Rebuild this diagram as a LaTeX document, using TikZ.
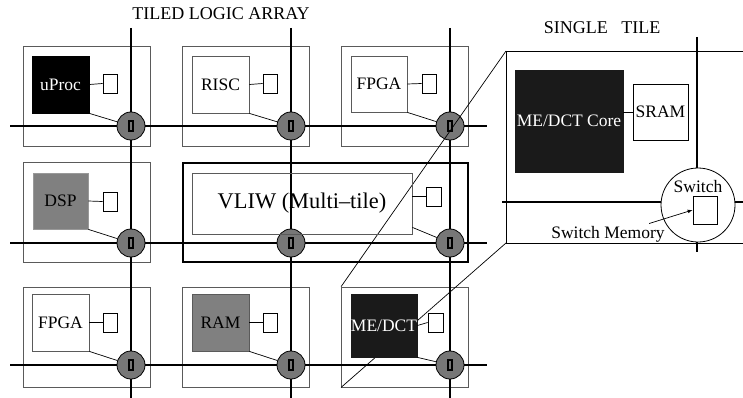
\documentclass[tikz,border=0pt]{standalone}
\usepackage{fontspec}
\setmainfont{Liberation Serif}
\usetikzlibrary{positioning}
\definecolor{tile-gray}{HTML}{5A5A5A}
\definecolor{core-gray}{HTML}{808080}
\definecolor{sw-gray}{HTML}{777777}
\definecolor{core-black}{HTML}{1A1A1A}

\begin{document}
\begin{tikzpicture}[x=1pt, y=-1pt,
    every node/.style={font=\fontsize{17.5}{19}\selectfont},
    tile/.style={draw=tile-gray, line width=0.8pt, minimum width=127pt,
                 minimum height=100pt, inner sep=0pt},
    core/.style={draw=tile-gray, line width=0.8pt, minimum width=57pt,
                 minimum height=57pt, inner sep=0pt, align=center},
    mem/.style={draw=black, line width=0.8pt, fill=white, minimum width=14pt,
                minimum height=19pt, inner sep=0pt},
    switch/.style={circle, draw=black, fill=sw-gray, line width=0.8pt,
                   minimum size=28pt, inner sep=0pt},
    swmem/.style={draw=black, line width=1.4pt, fill=sw-gray, minimum width=4pt,
                  minimum height=10pt, inner sep=0pt},
    wire/.style={line width=1.3pt},
    bus/.style={line width=2.6pt},
    link/.style={line width=0.7pt}]
  \useasboundingbox (0,0) rectangle (743,398);

  % titles
  \node[font=\fontsize{18}{20}\selectfont] (arraytitle) at (221,14) {TILED LOGIC ARRAY};
  \node[font=\fontsize{18}{20}\selectfont] (tiletitle) at (602,28) {SINGLE\ \ \ TILE};

  % tiles of the array
  \node[tile] (t11) at (86.5,96) {};
  \node[tile] (t12) at (246,96) {};
  \node[tile] (t13) at (405,96) {};
  \node[tile] (t21) at (86.5,212.5) {};
  \node[draw=black, line width=1.5pt, minimum width=285pt, minimum height=99pt,
        inner sep=0pt] (vliwtile) at (325.5,212.5) {};
  \node[tile] (t31) at (86.5,337) {};
  \node[tile] (t32) at (246,337) {};
  \node[tile] (t33) at (405,337) {};

  % network wires
  \foreach \x in {131,291,450}
    \draw[wire] (\x,28) -- (\x,398);
  \foreach \y in {126,243,365}
    \draw[wire] (10,\y) -- (487,\y);

  % switches
  \foreach \c/\x in {1/131,2/291,3/450}
    \foreach \r/\y in {1/126,2/243,3/365} {
      \node[switch] (sw\r\c) at (\x,\y) {};
      \node[swmem] at (sw\r\c) {};
    }

  % single tile view
  \coordinate (bigtl) at (506,51);
  \coordinate (bigbl) at (506,243);
  \coordinate (bigtr) at (743,51);
  \coordinate (bigbr) at (743,243);
  \draw[link] (bigtr) -- (bigtl) -- (bigbl) -- (bigbr);
  \draw[link] (t33.north west) -- (bigtl);
  \draw[link] (t33.south west) -- (bigbl);
  \draw[bus] (697,37) -- (697,252);
  \draw[bus] (502,202) -- (743,202);
  \node[circle, draw=black, fill=white, line width=0.8pt, minimum size=74pt,
        inner sep=0pt] (bigsw) at (698,205) {};
  \node (swtext) at (698,187) {Switch};
  \node[mem, minimum width=24pt, minimum height=28pt] (bigmem) at (705,210) {};
  \node (swmemtext) at (608,234) {Switch Memory};
  \draw[link, -latex] ([xshift=-19pt, yshift=-1pt]swmemtext.north east) -- (bigmem.west);
  \node[core, draw=core-black, fill=core-black, text=white, minimum width=108pt,
        minimum height=102pt] (bigcore) at (569,121) {ME/DCT Core};
  \node[core, draw=black, minimum width=55pt, minimum height=56pt] (sram) at (660.5,112) {SRAM};
  \draw[link] (sram.west -| bigcore.east) -- (sram.west);

  % cores, memories and their links
  \node[core, draw=black, fill=black, text=white] (uproc) at (60.5,84.5) {uProc};
  \node[mem] (m11) at (110,83.5) {};
  \node[core] (risc) at (220.5,84.5) {RISC};
  \node[mem] (m12) at (270,83.5) {};
  \node[core, minimum width=56pt, minimum height=56pt] (fpga1) at (379,84) {FPGA};
  \node[mem] (m13) at (429,83.5) {};
  \node[core, draw=core-gray!80, fill=core-gray, minimum width=55pt,
        minimum height=56pt] (dsp) at (60.5,201) {DSP};
  \node[mem] (m21) at (110,201.5) {};
  \node[core, draw=tile-gray, minimum width=220pt, minimum height=61pt,
        font=\fontsize{22.4}{24}\selectfont] (vliw) at (302,203.5) {VLIW (Multi--tile)};
  \node[mem, minimum width=15pt] (m22) at (433.5,196.5) {};
  \node[core] (fpga2) at (60.5,322.5) {FPGA};
  \node[mem] (m31) at (110,322.5) {};
  \node[core, draw=tile-gray, fill=core-gray] (ram) at (220.5,322.5) {RAM};
  \node[mem] (m32) at (270,322.5) {};
  \node[core, draw=core-black, fill=core-black, text=white, minimum width=66pt,
        minimum height=63pt] (medct) at (384,325.5) {ME/DCT};
  \node[mem, minimum width=15pt] (m33) at (435.5,322.5) {};

  \draw[link] (uproc.east) -- (m11.west);
  \draw[link] (risc.east) -- (m12.west);
  \draw[link] (fpga1.east) -- (m13.west);
  \draw[link] (dsp.east) -- (m21.west);
  \draw[link] (m22.west -| vliw.east) -- (m22.west);
  \draw[link] (fpga2.east) -- (m31.west);
  \draw[link] (ram.east) -- (m32.west);
  \draw[link] (medct.east) -- (m33.west);

  \draw[link] (uproc.south east) -- (sw11);
  \draw[link] (risc.south east) -- (sw12);
  \draw[link] (fpga1.south east) -- (sw13);
  \draw[link] (dsp.south east) -- (sw21);
  \draw[link] ([yshift=7pt]vliw.south east) -- (sw23);
  \draw[link] (fpga2.south east) -- (sw31);
  \draw[link] (ram.south east) -- (sw32);
  \draw[link] (medct.south east) -- (sw33);
\end{tikzpicture}
\end{document}
